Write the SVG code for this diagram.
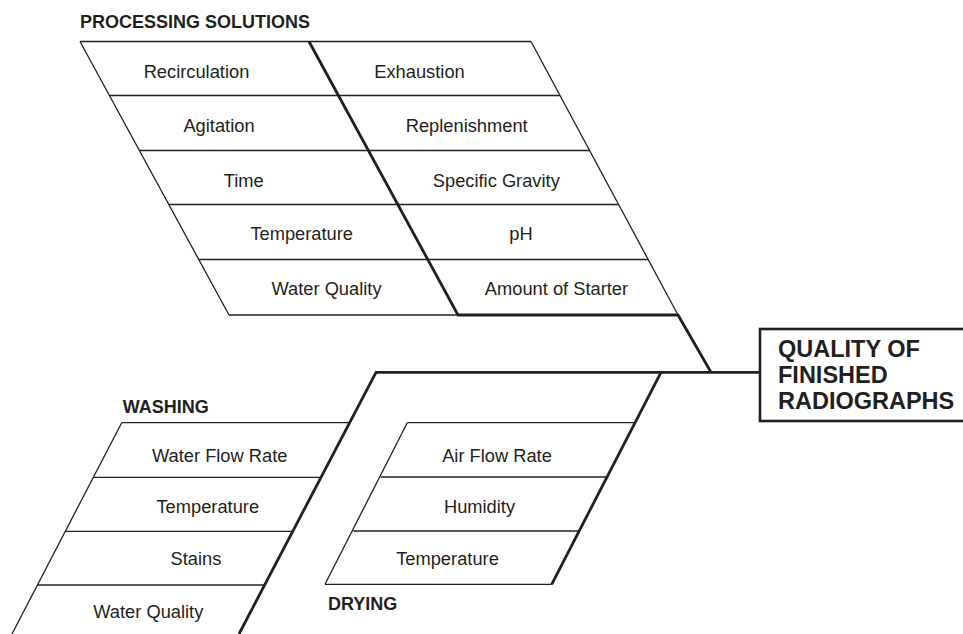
<svg xmlns="http://www.w3.org/2000/svg" width="963" height="634" viewBox="0 0 963 634">
  <style>
    .thin { stroke: #231f20; stroke-width: 1.3; fill: none; }
    .thick { stroke: #231f20; stroke-width: 2.8; fill: none; stroke-linejoin: miter; }
    .lbl { font-family: "Liberation Sans", Arial, Helvetica, sans-serif; font-size: 18.3px; fill: #231f20; text-anchor: middle; }
    .ttl { font-family: "Liberation Sans", Arial, Helvetica, sans-serif; font-size: 18px; font-weight: bold; fill: #231f20; }
    .effect { font-family: "Liberation Sans", Arial, Helvetica, sans-serif; font-size: 23.5px; font-weight: bold; fill: #231f20; }
  </style>
  <rect width="963" height="634" fill="#ffffff"/>

  <g id="processing-solutions">
    <text class="ttl" x="80" y="27.7">PROCESSING SOLUTIONS</text>
    <line class="thin" x1="80" y1="41.5" x2="531" y2="41.5"/>
    <line class="thin" x1="109.4" y1="95.5" x2="560" y2="95.5"/>
    <line class="thin" x1="139.4" y1="150.5" x2="589.6" y2="150.5"/>
    <line class="thin" x1="168.8" y1="204.5" x2="618.6" y2="204.5"/>
    <line class="thin" x1="198.8" y1="259.5" x2="648.2" y2="259.5"/>
    <line class="thin" x1="229" y1="315" x2="458" y2="315"/>
    <line class="thin" x1="80" y1="41.5" x2="229" y2="315"/>
    <line class="thin" x1="531" y1="41.5" x2="678" y2="315"/>
    <text class="lbl" x="196.5" y="77.5">Recirculation</text>
    <text class="lbl" x="219" y="131.7">Agitation</text>
    <text class="lbl" x="243.7" y="186.7">Time</text>
    <text class="lbl" x="301.7" y="239.5">Temperature</text>
    <text class="lbl" x="326.5" y="295">Water Quality</text>
    <text class="lbl" x="419.5" y="77.5">Exhaustion</text>
    <text class="lbl" x="466.7" y="131.7">Replenishment</text>
    <text class="lbl" x="496.3" y="186.7">Specific Gravity</text>
    <text class="lbl" x="521" y="239.5">pH</text>
    <text class="lbl" x="556.5" y="294.5">Amount of Starter</text>
  </g>

  <g id="washing">
    <text class="ttl" x="122.7" y="413.3">WASHING</text>
    <line class="thin" x1="121.7" y1="422.7" x2="349.6" y2="422.7"/>
    <line class="thin" x1="93.4" y1="477.3" x2="321" y2="477.3"/>
    <line class="thin" x1="65.3" y1="531.3" x2="292.8" y2="531.3"/>
    <line class="thin" x1="37.5" y1="585" x2="264.7" y2="585"/>
    <line class="thin" x1="121.7" y1="422.7" x2="12" y2="634"/>
    <text class="lbl" x="219.7" y="461.7">Water Flow Rate</text>
    <text class="lbl" x="207.8" y="513.3">Temperature</text>
    <text class="lbl" x="196" y="565">Stains</text>
    <text class="lbl" x="148.3" y="618.3">Water Quality</text>
  </g>

  <g id="drying">
    <line class="thin" x1="407.3" y1="422.7" x2="635" y2="422.7"/>
    <line class="thin" x1="380.7" y1="477" x2="607" y2="477"/>
    <line class="thin" x1="353.3" y1="531" x2="579.2" y2="531"/>
    <line class="thin" x1="325" y1="584.3" x2="551.7" y2="584.3"/>
    <line class="thin" x1="407.3" y1="422.7" x2="325" y2="584.3"/>
    <text class="lbl" x="497" y="461.7">Air Flow Rate</text>
    <text class="lbl" x="479.5" y="513.3">Humidity</text>
    <text class="lbl" x="447.5" y="565">Temperature</text>
    <text class="ttl" x="328" y="610">DRYING</text>
  </g>

  <g id="quality-of-finished-radiographs">
    <rect x="760" y="329" width="215" height="92" fill="#ffffff" stroke="#231f20" stroke-width="2.6"/>
    <text class="effect" x="778" y="357">QUALITY OF</text>
    <text class="effect" x="778" y="383">FINISHED</text>
    <text class="effect" x="778" y="409">RADIOGRAPHS</text>
  </g>

  <g id="connectors">
    <polyline class="thick" points="309,41.5 458,315 678,315 711,372.3"/>
    <polyline class="thick" points="239,634 376,372.3 760,372.3"/>
    <line class="thick" x1="661" y1="372.3" x2="551.7" y2="584.3"/>
  </g>
</svg>
